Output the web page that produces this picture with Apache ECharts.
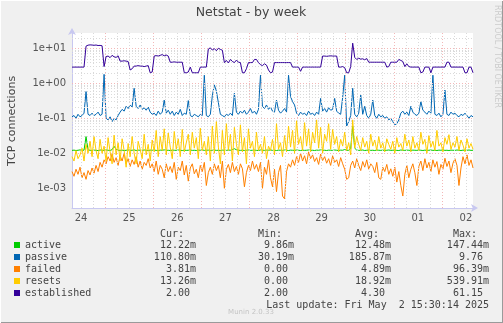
<!DOCTYPE html>
<html>
<head>
<meta charset="utf-8">
<script src="https://cdn.jsdelivr.net/npm/echarts@6/dist/echarts.min.js"></script>
<style>
  html, body { margin: 0; padding: 0; background: #f0f0f0; }
  #chart { width: 503px; height: 323px; }
</style>
</head>
<body>
<div id="chart"></div>
<script>
// Netstat weekly graph: half-hourly averages rolled up to hourly samples.
// Time is counted in hours from Thu 24 Apr 2025 00:00.
const START_HOUR = 7.5;
const END_HOUR = 207.5;
const hours = [];
for (let h = START_HOUR; h <= END_HOUR; h += 1) hours.push(h);

const seriesNames = ['active', 'passive', 'failed', 'resets', 'established'];
const seriesColors = ['#00cc00', '#0066b3', '#ff8000', '#ffcc00', '#330099'];

const activeVals = [
  .0121,.0123,.0120,.0122,.0125,.0121,.0123,.030,.0126,.0122,
  .0120,.0123,.0122,.0119,.0124,.0122,.0121,.0124,.0122,.0120,
  .0127,.0158,.0130,.0122,.0121,.0123,.0119,.0122,.0124,.0121,
  .0122,.0125,.0120,.0123,.0122,.0121,.0124,.0122,.0120,.0123,
  .0122,.0124,.0121,.0119,.0123,.0122,.0125,.0121,.0122,.0120,
  .0123,.0122,.0121,.0124,.0122,.0120,.0123,.0121,.0122,.0124,
  .0121,.0122,.0120,.0123,.0122,.0125,.0121,.0122,.0123,.0120,
  .0122,.0124,.0121,.0122,.0120,.0123,.0122,.0121,.0124,.0122,
  .0128,.0135,.0126,.0122,.0121,.0123,.0120,.0122,.0124,.0121,
  .0122,.0123,.0121,.0120,.0124,.0122,.0121,.0123,.0122,.0125,
  .0121,.0122,.0120,.0123,.0122,.0121,.0124,.0122,.0120,.0123,
  .0122,.0121,.0124,.0122,.0120,.0123,.0121,.0122,.0124,.0121,
  .0122,.0120,.0123,.0122,.0125,.0121,.0122,.0120,.0123,.0122,
  .0121,.0124,.0122,.0120,.0123,.0122,.0128,.0121,.0122,.0135,
  .060,.0140,.0123,.0121,.0122,.0124,.0120,.0122,.0123,.0121,
  .0122,.0120,.0124,.0122,.0121,.0123,.0120,.0122,.0124,.0121,
  .0122,.0123,.0121,.0120,.0124,.0122,.0121,.0123,.0122,.0120,
  .0123,.0122,.0121,.0124,.0122,.0120,.0123,.0121,.0122,.0124,
  .0121,.0122,.0120,.0123,.0122,.0125,.0121,.0122,.0120,.0123,
  .0122,.0121,.0124,.0122,.0120,.0123,.0121,.0122,.0124,.0121,
  .0122
];

const passiveVals = [
  0.11,0.12,0.10,0.13,0.11,0.12,0.14,0.58,0.13,0.12,
  0.14,0.12,0.13,0.15,0.12,0.13,1.8,0.10,0.09,0.11,
  0.08,0.10,0.09,0.12,0.15,0.18,0.16,0.22,0.19,0.24,
  0.21,0.72,0.22,0.19,0.24,0.18,0.20,0.17,0.21,0.15,
  0.13,0.14,0.12,0.16,0.13,0.15,0.33,0.14,0.17,0.13,
  0.16,0.12,0.15,0.13,0.18,0.12,0.14,0.13,0.32,0.12,
  0.11,0.13,0.12,0.11,0.13,0.12,1.7,0.12,0.11,0.13,
  0.45,0.9,0.6,0.28,0.13,0.12,0.11,0.13,0.12,0.14,
  0.12,0.52,0.15,0.13,0.16,0.14,0.17,0.13,0.15,0.19,
  0.14,0.16,0.13,0.18,1.7,0.22,0.19,0.24,0.18,0.21,
  0.16,0.15,0.33,0.17,0.14,0.16,0.19,0.15,1.7,0.42,
  0.30,0.24,0.14,0.12,0.15,0.13,0.14,0.12,0.16,0.13,
  0.14,0.12,0.15,0.13,0.37,0.16,0.19,0.15,0.20,0.17,
  0.18,0.37,0.16,0.14,0.13,0.40,1.7,0.06,0.08,0.12,
  0.72,0.13,0.11,0.14,0.46,0.13,0.22,0.12,0.10,0.13,
  0.33,0.12,0.10,0.13,0.11,0.12,0.10,0.11,0.09,0.10,
  0.08,0.065,0.07,0.09,0.14,0.16,0.13,0.15,0.12,0.22,
  0.15,0.13,0.12,0.14,0.30,0.17,0.15,0.13,0.16,0.14,
  1.7,0.13,0.12,0.14,0.11,0.13,0.64,0.13,0.12,0.15,
  0.13,0.14,0.12,0.11,0.13,0.12,0.14,0.12,0.10,0.12,
  0.11
];

const failedVals = [
  .0030,.0022,.0035,.0025,.0040,.0020,.0028,.0018,.0032,.0024,
  .0038,.0027,.0045,.0030,.0055,.0040,.0065,.0050,.0080,.0060,
  .0095,.0055,.0075,.0045,.0085,.0060,.0100,.0050,.0070,.0042,
  .0065,.0048,.0080,.0040,.0060,.0035,.0055,.0045,.0070,.0038,
  .0050,.0030,.0060,.0025,.0045,.0035,.0020,.0050,.0030,.0042,
  .0028,.0055,.0018,.0040,.0032,.0060,.0024,.0045,.0016,.0038,
  .0050,.0026,.0035,.0020,.0045,.0030,.0055,.0012,.0028,.0040,
  .0025,.0050,.0032,.0045,.0020,.0060,.0010,.0035,.0048,.0028,
  .0055,.0030,.0042,.0025,.0050,.0036,.0011,.0028,.0045,.0032,
  .0060,.0035,.0048,.0030,.0055,.0010,.0040,.0025,.0065,.0020,
  .0011,.0035,.0008,.0028,.0045,.0006,.0005,.0030,.0050,.0040,
  .0065,.0045,.0080,.0055,.0100,.0060,.0085,.0050,.0110,.0070,
  .0090,.0058,.0075,.0048,.0095,.0062,.0080,.0052,.0070,.0045,
  .0085,.0055,.0065,.0042,.0075,.0050,.0035,.0018,.0020,.0045,
  .0060,.0038,.0070,.0045,.0032,.0058,.0040,.0065,.0035,.0050,
  .0042,.0028,.0055,.0020,.0018,.0040,.0030,.0048,.0025,.0036,
  .0022,.0040,.0015,.0030,.0012,.0006,.0025,.0045,.0020,.0035,
  .0050,.0028,.0012,.0042,.0060,.0032,.0070,.0038,.0055,.0030,
  .0065,.0040,.0058,.0025,.0048,.0035,.0072,.0042,.0060,.0028,
  .0052,.0070,.0045,.0012,.0038,.0080,.0050,.0090,.0045,.0065,
  .0038
];

const resetsVals = [
  .008,.006,.012,.007,.009,.014,.006,.018,.010,.022,
  .008,.030,.012,.007,.025,.010,.016,.006,.028,.011,
  .005,.033,.009,.020,.006,.026,.012,.004,.019,.008,
  .030,.010,.005,.022,.013,.007,.035,.009,.018,.006,
  .024,.011,.045,.008,.030,.012,.050,.009,.038,.015,
  .007,.042,.013,.026,.008,.048,.011,.020,.035,.009,
  .040,.014,.028,.007,.052,.012,.022,.009,.030,.006,
  .060,.010,.080,.015,.005,.045,.009,.070,.012,.035,
  .006,.055,.018,.009,.065,.011,.028,.005,.050,.014,
  .022,.008,.040,.012,.018,.010,.030,.007,.016,.012,
  .025,.009,.070,.013,.020,.008,.032,.011,.060,.015,
  .045,.010,.085,.018,.030,.012,.075,.016,.050,.011,
  .040,.020,.090,.014,.055,.010,.035,.022,.070,.013,
  .048,.018,.030,.011,.025,.016,.040,.012,.020,.009,
  .090,.014,.030,.018,.012,.028,.015,.022,.010,.035,
  .016,.024,.012,.030,.014,.020,.011,.026,.018,.013,
  .022,.010,.028,.015,.019,.012,.035,.016,.024,.011,
  .030,.014,.020,.012,.040,.018,.025,.010,.032,.015,
  .022,.012,.045,.016,.020,.011,.028,.018,.034,.013,
  .020,.015,.030,.012,.024,.017,.011,.026,.014,.019,
  .013
];

const establishedVals = [
  2.9,2.9,2.9,2.9,2.9,2.9,2.9,11.5,12.3,12.5,
  12.4,12.2,12.4,12.0,12.1,11.8,3.0,5.8,6.0,5.4,
  6.3,5.7,5.5,6.1,4.3,4.3,4.4,4.3,4.2,2.4,
  2.6,3.1,3.1,3.2,3.1,3.1,3.0,3.1,3.2,2.0,
  2.1,6.0,6.2,6.0,6.3,6.6,6.1,6.4,6.0,4.0,
  4.0,4.1,4.0,4.0,4.0,4.0,2.0,2.0,2.1,2.9,
  2.0,2.0,2.0,2.0,2.9,2.9,2.9,2.9,9.5,10.3,
  8.9,9.8,8.5,10.0,9.3,8.8,3.9,4.5,3.8,4.8,
  4.2,3.9,4.6,4.0,3.9,2.0,2.0,2.6,3.9,3.9,
  3.9,4.8,4.8,3.9,3.4,3.2,3.6,3.3,2.4,2.0,
  2.1,3.9,3.9,3.9,3.9,3.9,3.9,3.9,3.9,3.9,
  2.9,2.9,2.9,2.9,2.2,2.9,2.9,2.9,2.9,2.9,
  2.9,2.9,2.9,2.9,2.9,6.0,6.0,5.9,6.0,6.1,
  6.0,6.0,6.0,2.9,2.9,3.0,2.8,2.0,2.0,3.0,
  14.0,5.5,4.8,5.2,4.9,5.0,4.7,5.1,4.0,4.0,
  4.0,4.0,4.0,4.0,4.0,4.0,4.0,2.9,3.0,4.0,
  4.0,4.0,4.0,4.8,4.5,4.2,3.0,3.6,3.0,2.9,
  2.9,2.9,2.9,2.9,2.0,2.1,2.9,2.9,2.9,2.0,
  2.9,2.9,2.9,2.9,2.9,2.9,2.9,4.0,4.0,2.9,
  2.9,2.9,2.9,2.9,2.9,2.9,2.0,2.0,2.9,2.9,
  2.0
];

// Axis ticks
const dayNoons = [12, 36, 60, 84, 108, 132, 156, 180, 204];
const dayLabels = ['24', '25', '26', '27', '28', '29', '30', '01', '02'];
const decadeTicks = [0.001, 0.01, 0.1, 1, 10];
const decadeLabels = ['1e-03', '1e-02', '1e-01', '1e+00', '1e+01'];
const Y_MIN = 0.000273;
const Y_MAX = 27.35;

// Legend statistics
const statHeaders = ['Cur:', 'Min:', 'Avg:', 'Max:'];
const curStats = ['12.22m', '110.80m', '3.81m', '13.26m', '2.00'];
const minStats = ['9.86m', '30.19m', '0.00', '0.00', '2.00'];
const avgStats = ['12.48m', '185.87m', '4.89m', '18.92m', '4.30'];
const maxStats = ['147.44m', '9.76', '96.39m', '539.91m', '61.15'];
const lastUpdate = 'Last update: Fri May  2 15:30:14 2025';

const allVals = [activeVals, passiveVals, failedVals, resetsVals, establishedVals];

// Grid lines: every 6 h vertically (midnight in red), 1-9 per decade horizontally
const MAJOR_GRID = '#f3b8b8';
const MINOR_GRID = '#dadada';
const vLines = [];
for (let h = 12; h < END_HOUR; h += 6) {
  const midnight = h % 24 === 0;
  vLines.push({ xAxis: h, lineStyle: { color: midnight ? MAJOR_GRID : MINOR_GRID } });
}
const hLines = [];
for (let d = -4; d <= 1; d++) {
  for (let k = 1; k <= 9; k++) {
    const v = k * Math.pow(10, d);
    if (v <= Y_MIN || v >= Y_MAX) continue;
    hLines.push({ yAxis: v, lineStyle: { color: k === 1 ? MAJOR_GRID : MINOR_GRID } });
  }
}

const FONT = 'DejaVu Sans';
const MONO = 'DejaVu Sans Mono';

const series = [{
  name: 'grid',
  type: 'line',
  data: [],
  silent: true,
  z: 1,
  markLine: {
    silent: true,
    symbol: ['none', 'none'],
    label: { show: false },
    animation: false,
    lineStyle: { type: [1, 2], width: 1 },
    data: vLines.concat(hLines)
  }
}];
seriesNames.forEach((name, s) => {
  series.push({
    name,
    type: 'line',
    z: 2 + s,
    showSymbol: false,
    symbol: 'none',
    animation: false,
    lineStyle: { color: seriesColors[s], width: 1 },
    itemStyle: { color: seriesColors[s] },
    data: hours.map((h, i) => [h, allVals[s][i]])
  });
});

// Legend statistic columns, right-aligned on the unit column
const colEnds = [196, 294, 391, 489];
const columns = [curStats, minStats, avgStats, maxStats];
const graphics = [];
const textEl = (x, y, text, opts) => ({
  type: 'text', x, y, silent: true,
  style: Object.assign({
    text, fill: '#444', font: '10px "' + MONO + '"',
    textAlign: 'right', textVerticalAlign: 'middle'
  }, opts || {})
});
statHeaders.forEach((t, c) => graphics.push(textEl(colEnds[c] - 12, 234, t)));
columns.forEach((col, c) => {
  col.forEach((v, r) => {
    const hasUnit = /[a-zA-Z]$/.test(v);
    graphics.push(textEl(hasUnit ? colEnds[c] : colEnds[c] - 6, 245 + r * 12, v));
  });
});
graphics.push(textEl(489, 305, lastUpdate));
graphics.push(textEl(251, 312, 'Munin 2.0.33', {
  textAlign: 'center', fill: '#c4c4c4', font: '7px "' + FONT + '"'
}));
graphics.push(textEl(251, 13, 'Netstat - by week', {
  textAlign: 'center', fill: '#444', font: '12.5px "' + FONT + '"'
}));
graphics.push(Object.assign(textEl(12, 121, 'TCP connections', {
  textAlign: 'center', fill: '#444', font: '11px "' + FONT + '"'
}), { rotation: Math.PI / 2 }));
graphics.push(Object.assign(textEl(497, 5, 'RRDTOOL / TOBI OETIKER', {
  textAlign: 'left', fill: '#cccccc', font: '8px "' + FONT + '"'
}), { rotation: -Math.PI / 2 }));
// frame around the canvas
graphics.push({ type: 'line', silent: true, shape: { x1: 0.5, y1: 322.5, x2: 502.5, y2: 322.5 }, style: { stroke: '#9a9a9a' } });
graphics.push({ type: 'line', silent: true, shape: { x1: 502.5, y1: 0, x2: 502.5, y2: 323 }, style: { stroke: '#9a9a9a' } });
graphics.push({ type: 'line', silent: true, shape: { x1: 0.5, y1: 0, x2: 0.5, y2: 323 }, style: { stroke: '#ffffff' } });
graphics.push({ type: 'line', silent: true, shape: { x1: 0, y1: 0.5, x2: 503, y2: 0.5 }, style: { stroke: '#ffffff' } });

const axisLineColor = '#c8c8f0';

const option = {
  animation: false,
  backgroundColor: '#f0f0f0',
  grid: {
    left: 72, top: 33, width: 401, height: 175,
    show: true, backgroundColor: '#ffffff', borderWidth: 0,
    outerBoundsMode: 'none', containLabel: false
  },
  legend: {
    data: seriesNames,
    orient: 'vertical',
    left: 14, top: 239,
    padding: 0,
    itemGap: 0,
    itemWidth: 6, itemHeight: 6,
    icon: 'rect',
    selectedMode: false,
    textStyle: { fontFamily: MONO, fontSize: 10, color: '#444', lineHeight: 12 }
  },
  xAxis: {
    type: 'value',
    min: START_HOUR, max: END_HOUR,
    axisLine: {
      show: true, onZero: false,
      symbol: ['none', 'arrow'], symbolSize: [6, 7], symbolOffset: [0, 5],
      lineStyle: { color: axisLineColor, width: 1 }
    },
    axisTick: { show: false },
    splitLine: { show: false },
    axisLabel: {
      customValues: dayNoons,
      formatter: v => dayLabels[dayNoons.indexOf(v)] || '',
      fontFamily: FONT, fontSize: 10, color: '#555', margin: 5
    }
  },
  yAxis: {
    type: 'log',
    min: Y_MIN, max: Y_MAX,
    axisLine: {
      show: true, onZero: false,
      symbol: ['none', 'arrow'], symbolSize: [6, 7], symbolOffset: [0, 5],
      lineStyle: { color: axisLineColor, width: 1 }
    },
    axisTick: { show: false },
    splitLine: { show: false },
    minorSplitLine: { show: false },
    axisLabel: {
      customValues: decadeTicks,
      formatter: v => {
        const i = decadeTicks.findIndex(t => Math.abs(t - v) / t < 1e-6);
        return i >= 0 ? decadeLabels[i] : '';
      },
      fontFamily: FONT, fontSize: 10, color: '#555', margin: 6
    }
  },
  graphic: graphics,
  series
};

const chart = echarts.init(document.getElementById('chart'), null, { renderer: 'canvas' });
chart.setOption(option);
</script>
</body>
</html>
